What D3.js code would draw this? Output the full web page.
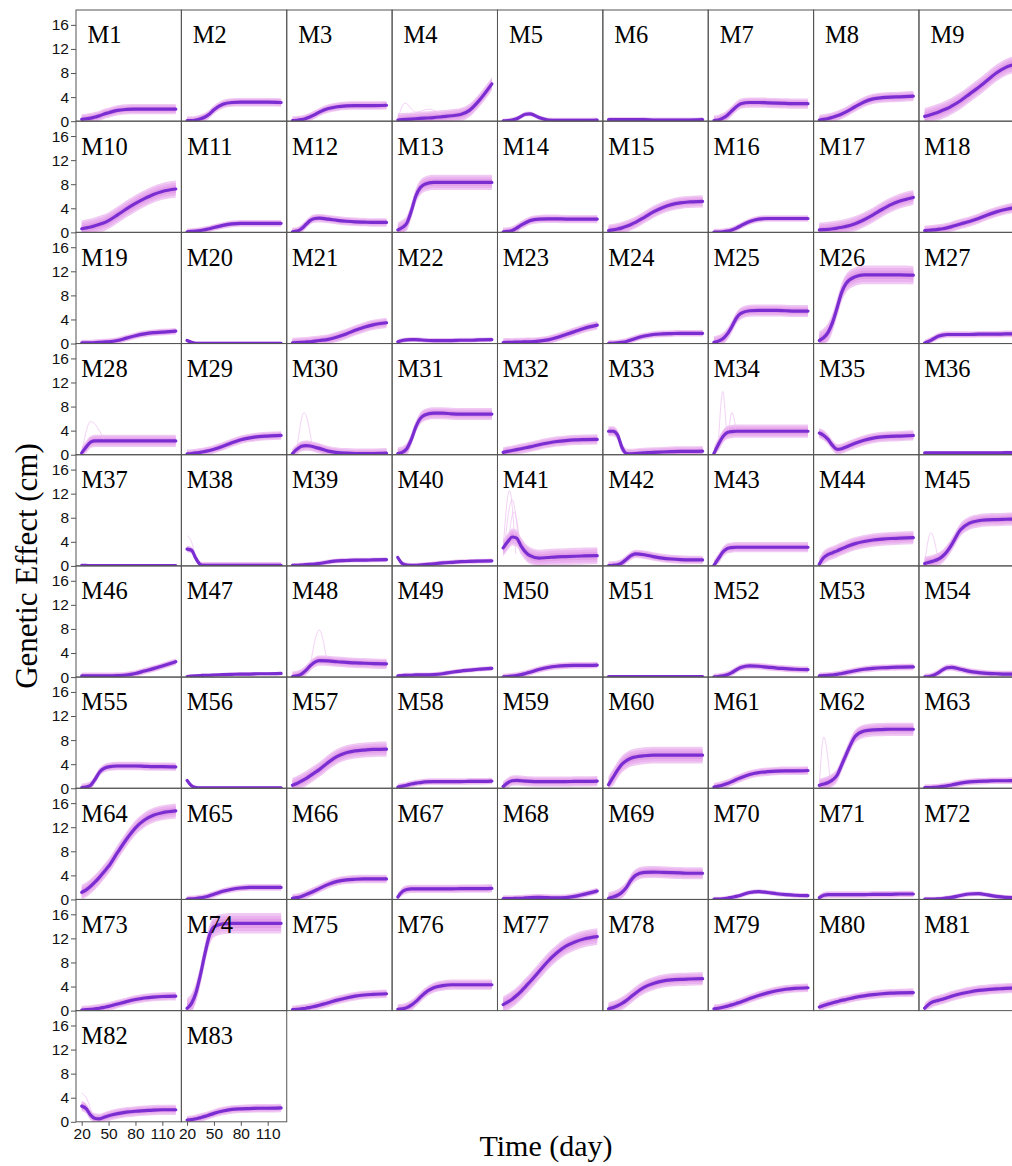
<!DOCTYPE html>
<html>
<head>
<meta charset="utf-8">
<script src="https://cdn.jsdelivr.net/npm/d3@7"></script>
<style>
  html, body { margin: 0; padding: 0; background: #fff; }
  svg { display: block; }
</style>
</head>
<body>
<div id="chart"></div>
<script>
// ---------------- DATA ----------------
const days = [20, 25, 30, 35, 40, 45, 50, 60, 70, 80, 90, 100, 110, 125];
const xTicks = [20, 50, 80, 110];
const yTicks = [0, 4, 8, 12, 16];
const panelLabels = ["M1","M2","M3","M4","M5","M6","M7","M8","M9","M10","M11","M12","M13","M14","M15","M16","M17","M18","M19","M20","M21","M22","M23","M24","M25","M26","M27","M28","M29","M30","M31","M32","M33","M34","M35","M36","M37","M38","M39","M40","M41","M42","M43","M44","M45","M46","M47","M48","M49","M50","M51","M52","M53","M54","M55","M56","M57","M58","M59","M60","M61","M62","M63","M64","M65","M66","M67","M68","M69","M70","M71","M72","M73","M74","M75","M76","M77","M78","M79","M80","M81","M82","M83"];

// mean genetic effect (cm) of each marker at the sampled days
const meanEffects = [
  [0.3,0.4,0.5,0.7,0.9,1.2,1.4,1.8,1.95,2.0,2.0,2.0,2.0,2.0],
  [0.1,0.1,0.2,0.4,0.7,1.2,1.9,2.8,3.1,3.15,3.15,3.15,3.15,3.1],
  [0.1,0.15,0.25,0.45,0.75,1.1,1.5,2.1,2.4,2.55,2.6,2.6,2.6,2.65],
  [0.2,0.25,0.3,0.35,0.4,0.45,0.5,0.6,0.75,0.9,1.1,1.8,3.3,6.2],
  [0.05,0.1,0.2,0.4,0.8,1.15,1.2,0.6,0.2,0.15,0.15,0.15,0.15,0.2],
  [0.25,0.25,0.25,0.25,0.25,0.25,0.25,0.25,0.2,0.2,0.2,0.2,0.2,0.25],
  [0.1,0.2,0.5,1.0,1.7,2.4,2.9,3.1,3.1,3.05,3.0,2.95,2.9,2.9],
  [0.2,0.3,0.45,0.65,0.9,1.2,1.55,2.4,3.2,3.7,3.9,4.0,4.05,4.15],
  [0.8,1.0,1.25,1.5,1.8,2.1,2.5,3.4,4.5,5.6,6.8,8.0,8.9,9.6],
  [0.6,0.75,0.9,1.1,1.35,1.6,1.95,2.9,3.9,4.8,5.6,6.3,6.8,7.2],
  [0.1,0.15,0.2,0.3,0.45,0.6,0.8,1.15,1.4,1.5,1.5,1.5,1.5,1.5],
  [0.1,0.2,0.6,1.3,2.0,2.3,2.35,2.2,2.0,1.85,1.75,1.7,1.65,1.65],
  [0.4,0.8,1.5,3.5,6.0,7.4,8.0,8.3,8.3,8.3,8.3,8.3,8.3,8.3],
  [0.1,0.15,0.3,0.7,1.2,1.6,1.95,2.2,2.25,2.25,2.2,2.2,2.2,2.2],
  [0.3,0.4,0.55,0.75,1.0,1.3,1.65,2.5,3.4,4.1,4.6,4.9,5.05,5.15],
  [0.05,0.05,0.1,0.2,0.4,0.7,1.1,1.8,2.2,2.3,2.3,2.3,2.3,2.3],
  [0.4,0.45,0.5,0.6,0.7,0.85,1.0,1.45,2.1,2.9,3.8,4.6,5.2,5.8],
  [0.3,0.35,0.4,0.5,0.6,0.75,0.95,1.4,1.8,2.3,2.9,3.4,3.8,4.2],
  [0.1,0.1,0.1,0.15,0.2,0.25,0.3,0.5,0.9,1.3,1.6,1.8,1.9,2.05],
  [0.5,0.2,0.05,0.05,0.05,0.05,0.05,0.05,0.05,0.05,0.05,0.05,0.05,0.05],
  [0.1,0.15,0.2,0.25,0.3,0.4,0.5,0.7,1.1,1.6,2.2,2.7,3.1,3.45],
  [0.3,0.5,0.6,0.65,0.65,0.6,0.55,0.5,0.5,0.5,0.55,0.55,0.6,0.65],
  [0.15,0.2,0.2,0.25,0.25,0.3,0.3,0.4,0.6,1.0,1.5,2.0,2.5,3.05],
  [0.05,0.05,0.1,0.2,0.35,0.6,0.85,1.25,1.5,1.6,1.65,1.7,1.7,1.7],
  [0.2,0.4,0.8,1.6,2.8,4.2,5.0,5.45,5.5,5.5,5.5,5.45,5.4,5.4],
  [0.5,1.0,1.9,3.6,6.0,8.5,10.0,11.1,11.4,11.4,11.4,11.4,11.4,11.35],
  [0.1,0.4,0.8,1.2,1.4,1.5,1.5,1.5,1.5,1.55,1.55,1.55,1.6,1.6],
  [0.3,1.3,2.1,2.3,2.3,2.3,2.3,2.3,2.3,2.3,2.3,2.3,2.3,2.3],
  [0.15,0.2,0.3,0.4,0.55,0.7,0.9,1.4,2.0,2.5,2.8,3.0,3.1,3.2],
  [0.2,0.9,1.4,1.5,1.45,1.25,1.05,0.6,0.35,0.25,0.2,0.2,0.2,0.25],
  [0.2,0.4,1.0,2.5,4.6,6.0,6.6,6.9,6.9,6.8,6.75,6.75,6.75,6.75],
  [0.4,0.55,0.7,0.85,1.0,1.15,1.3,1.65,1.95,2.2,2.35,2.45,2.5,2.55],
  [3.9,3.9,3.3,1.2,0.2,0.15,0.2,0.3,0.4,0.45,0.5,0.55,0.55,0.6],
  [0.2,1.7,3.0,3.7,3.85,3.9,3.9,3.9,3.9,3.9,3.9,3.9,3.9,3.9],
  [3.6,3.2,2.5,1.5,0.9,1.0,1.3,1.9,2.4,2.75,2.95,3.05,3.1,3.2],
  [0.3,0.3,0.3,0.3,0.3,0.3,0.3,0.3,0.3,0.3,0.3,0.3,0.35,0.35],
  [0.1,0.08,0.05,0.05,0.05,0.05,0.05,0.05,0.05,0.05,0.05,0.05,0.05,0.05],
  [2.8,2.6,1.2,0.2,0.1,0.1,0.1,0.1,0.1,0.1,0.1,0.1,0.1,0.1],
  [0.1,0.1,0.15,0.2,0.25,0.3,0.4,0.65,0.85,0.9,0.95,0.95,1.0,1.05],
  [1.4,0.4,0.15,0.1,0.1,0.15,0.2,0.35,0.5,0.6,0.7,0.75,0.8,0.85],
  [3.0,4.0,4.8,4.6,3.3,2.3,1.7,1.3,1.4,1.5,1.55,1.6,1.65,1.7],
  [0.05,0.1,0.2,0.5,1.1,1.7,2.0,1.85,1.55,1.3,1.15,1.05,1.0,1.0],
  [0.1,1.2,2.3,2.9,3.05,3.1,3.1,3.1,3.1,3.1,3.1,3.1,3.1,3.1],
  [0.3,1.4,1.9,2.2,2.5,2.85,3.15,3.7,4.05,4.3,4.45,4.55,4.6,4.7],
  [0.4,0.6,0.8,1.1,1.6,2.4,3.5,6.0,7.1,7.5,7.65,7.7,7.75,7.8],
  [0.2,0.2,0.2,0.2,0.2,0.2,0.2,0.25,0.35,0.6,1.0,1.4,1.85,2.55],
  [0.1,0.15,0.2,0.25,0.3,0.3,0.35,0.4,0.45,0.5,0.5,0.55,0.55,0.6],
  [0.1,0.2,0.5,1.1,1.9,2.5,2.75,2.7,2.55,2.45,2.35,2.3,2.25,2.2],
  [0.2,0.25,0.3,0.3,0.35,0.35,0.35,0.4,0.55,0.8,1.0,1.15,1.3,1.45],
  [0.05,0.1,0.15,0.25,0.4,0.6,0.8,1.25,1.6,1.8,1.9,1.95,1.95,2.0],
  [0.1,0.1,0.1,0.1,0.1,0.1,0.1,0.1,0.1,0.1,0.1,0.1,0.1,0.1],
  [0.05,0.1,0.2,0.4,0.75,1.2,1.6,1.85,1.8,1.65,1.5,1.4,1.3,1.25],
  [0.2,0.25,0.3,0.35,0.45,0.6,0.75,1.05,1.3,1.45,1.55,1.6,1.65,1.7],
  [0.05,0.1,0.3,0.7,1.2,1.55,1.6,1.3,0.95,0.75,0.6,0.55,0.5,0.5],
  [0.1,0.2,0.5,1.5,2.7,3.3,3.55,3.7,3.7,3.7,3.65,3.6,3.6,3.55],
  [1.3,0.4,0.1,0.05,0.05,0.05,0.05,0.05,0.05,0.05,0.05,0.05,0.05,0.05],
  [0.5,0.8,1.2,1.6,2.1,2.6,3.1,4.3,5.3,5.9,6.2,6.35,6.45,6.5],
  [0.2,0.35,0.5,0.7,0.85,0.95,1.05,1.1,1.1,1.1,1.1,1.15,1.15,1.2],
  [0.3,0.9,1.25,1.3,1.25,1.2,1.15,1.1,1.1,1.1,1.1,1.15,1.15,1.2],
  [0.6,1.8,3.0,4.0,4.6,5.0,5.2,5.4,5.5,5.5,5.5,5.5,5.5,5.5],
  [0.2,0.35,0.55,0.8,1.1,1.45,1.75,2.3,2.6,2.75,2.85,2.9,2.9,2.95],
  [0.5,0.7,0.95,1.4,2.2,3.9,5.6,8.6,9.5,9.7,9.75,9.8,9.8,9.8],
  [0.1,0.1,0.15,0.2,0.3,0.4,0.55,0.85,1.05,1.15,1.2,1.25,1.25,1.3],
  [1.2,1.6,2.2,2.9,3.7,4.6,5.5,7.8,10.0,11.9,13.2,14.0,14.4,14.7],
  [0.05,0.1,0.15,0.25,0.4,0.6,0.85,1.35,1.7,1.9,2.0,2.0,2.0,2.0],
  [0.2,0.3,0.5,0.8,1.1,1.45,1.8,2.5,3.0,3.25,3.35,3.4,3.4,3.4],
  [0.4,1.3,1.65,1.75,1.75,1.75,1.75,1.75,1.75,1.75,1.8,1.8,1.8,1.85],
  [0.15,0.15,0.15,0.2,0.2,0.25,0.3,0.35,0.3,0.25,0.3,0.5,0.85,1.4],
  [0.2,0.4,0.7,1.2,2.0,3.2,4.0,4.5,4.55,4.5,4.45,4.4,4.35,4.35],
  [0.05,0.05,0.1,0.2,0.35,0.5,0.7,1.15,1.3,1.15,0.95,0.8,0.7,0.65],
  [0.3,0.7,0.8,0.8,0.8,0.8,0.8,0.8,0.8,0.85,0.85,0.85,0.9,0.9],
  [0.05,0.05,0.05,0.1,0.15,0.25,0.35,0.65,0.9,0.95,0.75,0.5,0.35,0.3],
  [0.1,0.15,0.2,0.3,0.4,0.55,0.7,1.1,1.5,1.85,2.1,2.25,2.35,2.4],
  [0.4,1.2,3.0,6.0,9.5,12.5,13.9,14.4,14.5,14.5,14.5,14.5,14.5,14.5],
  [0.15,0.2,0.3,0.4,0.55,0.7,0.9,1.3,1.75,2.1,2.4,2.6,2.7,2.8],
  [0.2,0.3,0.5,0.9,1.5,2.2,2.9,3.8,4.15,4.3,4.3,4.3,4.3,4.3],
  [1.0,1.4,1.9,2.5,3.2,4.0,4.8,6.5,8.2,9.6,10.7,11.4,11.9,12.3],
  [0.3,0.5,0.8,1.2,1.7,2.3,2.9,3.9,4.5,4.9,5.1,5.2,5.25,5.3],
  [0.3,0.4,0.55,0.75,0.95,1.2,1.45,2.0,2.5,2.95,3.3,3.55,3.7,3.8],
  [0.6,0.85,1.1,1.3,1.5,1.7,1.85,2.2,2.45,2.65,2.8,2.9,2.95,3.0],
  [0.4,1.1,1.5,1.7,1.9,2.15,2.4,2.8,3.1,3.35,3.5,3.6,3.7,3.75],
  [2.6,2.2,1.1,0.55,0.5,0.75,1.0,1.35,1.6,1.75,1.85,1.95,2.0,2.0],
  [0.3,0.35,0.5,0.7,0.9,1.15,1.4,1.8,2.05,2.15,2.2,2.25,2.25,2.3]
];

// half-width (cm) of the band of bootstrap curves around each mean
const bandHalfWidth = [
  0.85,0.7,0.7,1.1,0.4,0.4,0.85,0.85,1.4,
  1.4,0.55,0.7,1.25,0.7,1.0,0.55,1.25,0.85,
  0.55,0.3,0.85,0.4,0.7,0.55,1.0,1.55,0.55,
  1.0,0.7,0.85,1.0,0.85,0.85,1.1,0.85,0.3,
  0.15,0.55,0.4,0.4,1.4,0.7,0.85,1.1,1.1,
  0.55,0.3,0.85,0.4,0.55,0.2,0.55,0.55,0.55,
  0.7,0.3,1.25,0.55,0.85,1.4,0.7,1.1,0.55,
  1.25,0.55,0.7,0.7,0.55,1.0,0.4,0.55,0.4,
  0.7,1.7,0.7,0.85,1.4,1.1,0.7,0.7,0.85,
  0.85,0.7
];

// a few stray bootstrap curves that leave the band: [marker number, [[day, cm], ...]]
const strayCurves = [
  [4,  [[20,0.3],[28,3.0],[40,1.5],[55,2.0],[70,0.8]]],
  [28, [[20,0.3],[30,5.5],[45,2.5]]],
  [30, [[25,1.0],[33,7.0],[42,1.5]]],
  [34, [[25,2.0],[30,10.5],[35,3.5],[40,7.0],[45,3.8]]],
  [38, [[20,5.0],[25,4.0],[30,1.0]]],
  [41, [[20,3.0],[27,12.5],[34,2.0]]],
  [41, [[22,4.0],[30,11.0],[38,3.0]]],
  [41, [[25,3.0],[32,9.0],[40,2.0]]],
  [45, [[20,0.5],[27,5.5],[35,1.0]]],
  [48, [[40,2.0],[50,7.8],[58,3.0]]],
  [62, [[20,0.5],[25,8.5],[32,1.5]]],
  [82, [[20,4.8],[25,4.0],[32,1.2]]]
];

// ---------------- LAYOUT ----------------
const W = 1012, H = 1166;
const gridLeft = 76, gridTop = 10, colW = 105.37, rowH = 111.18, nCols = 9;

const svg = d3.select("#chart").append("svg")
  .attr("width", W).attr("height", H)
  .attr("viewBox", `0 0 ${W} ${H}`);

const x = d3.scaleLinear().domain([13.64, 131.24]).range([0, colW]);
const y = d3.scaleLinear().domain([0, 18.47]).range([rowH, 0]);

const meanLine = d3.line().x(d => x(d[0])).y(d => y(d[1])).curve(d3.curveMonotoneX);
const band = d3.area().x(d => x(d[0])).y0(d => y(d[1])).y1(d => y(d[2])).curve(d3.curveMonotoneX);

const defs = svg.append("defs");
defs.append("clipPath").attr("id", "pclip")
  .append("rect").attr("x", 0).attr("y", 0).attr("width", colW).attr("height", rowH);

const lastRowStart = Math.floor((meanEffects.length - 1) / nCols) * nCols;
const bandLayers = [[1.0, "#f1caf3"], [0.75, "#eab2ee"], [0.45, "#e39fe8"]];

meanEffects.forEach((vals, i) => {
  const col = i % nCols, row = Math.floor(i / nCols);
  const g = svg.append("g").attr("transform", `translate(${gridLeft + col * colW},${gridTop + row * rowH})`);
  const plot = g.append("g").attr("clip-path", "url(#pclip)");
  const hw = bandHalfWidth[i];

  bandLayers.forEach(([f, c]) => {
    const pts = days.map((d, k) => [d, Math.max(0, vals[k] - hw * f), vals[k] + hw * f]);
    plot.append("path").attr("d", band(pts)).attr("fill", c);
  });

  strayCurves.filter(s => s[0] === i + 1).forEach(s => {
    plot.append("path").attr("d", meanLine(s[1]))
      .attr("fill", "none").attr("stroke", "#eebff0").attr("stroke-width", 0.7);
  });

  plot.append("path").attr("d", meanLine(days.map((d, k) => [d, vals[k]])))
    .attr("fill", "none").attr("stroke", "#7a2ed2").attr("stroke-width", 3.2)
    .attr("stroke-linecap", "round");

  g.append("rect").attr("x", 0).attr("y", 0).attr("width", colW).attr("height", rowH)
    .attr("fill", "none").attr("stroke", "#555").attr("stroke-width", 1);

  g.append("text").attr("x", 28.5).attr("y", 33.4)
    .attr("text-anchor", "middle")
    .attr("font-family", "'Liberation Serif','Times New Roman',serif")
    .attr("font-size", 24.5).attr("fill", "#000")
    .text(panelLabels[i]);

  if (col === 0) {
    const ya = g.append("g").call(d3.axisLeft(y).tickValues(yTicks).tickSize(5).tickSizeOuter(0).tickPadding(2));
    ya.select(".domain").remove();
    ya.selectAll("text").attr("font-family", "'Liberation Sans',Arial,sans-serif").attr("font-size", 15.5).attr("fill", "#111");
    ya.selectAll("line").attr("stroke", "#555");
  }
  if (i >= lastRowStart) {
    const xa = g.append("g").attr("transform", `translate(0,${rowH})`)
      .call(d3.axisBottom(x).tickValues(xTicks).tickSize(4).tickSizeOuter(0).tickPadding(2));
    xa.select(".domain").remove();
    xa.selectAll("text").attr("font-family", "'Liberation Sans',Arial,sans-serif").attr("font-size", 15.5).attr("fill", "#111");
    xa.selectAll("line").attr("stroke", "#555");
  }
});

svg.append("text")
  .attr("transform", `translate(37,566) rotate(-90)`)
  .attr("text-anchor", "middle")
  .attr("font-family", "'Liberation Serif','Times New Roman',serif")
  .attr("font-size", 31).attr("fill", "#000")
  .text("Genetic Effect (cm)");

svg.append("text")
  .attr("x", 546).attr("y", 1156)
  .attr("text-anchor", "middle")
  .attr("font-family", "'Liberation Serif','Times New Roman',serif")
  .attr("font-size", 30).attr("fill", "#000")
  .text("Time (day)");
</script>
</body>
</html>
